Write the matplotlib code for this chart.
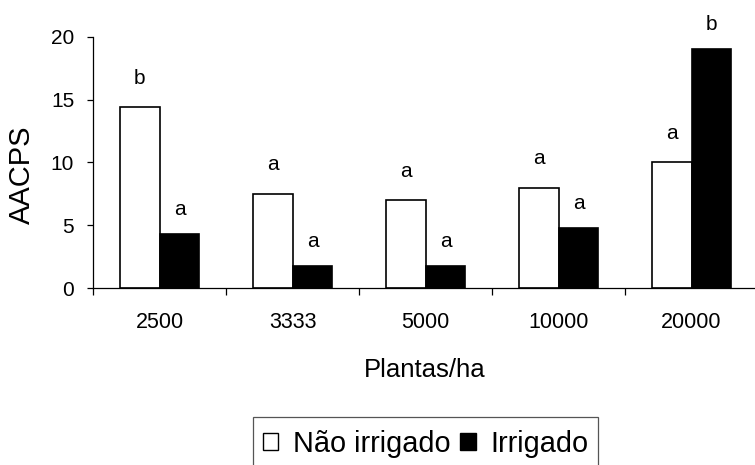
import matplotlib
matplotlib.use("Agg")
import matplotlib.pyplot as plt
from matplotlib.patches import Patch, Rectangle
import numpy as np

categories = ["2500", "3333", "5000", "10000", "20000"]
nao_irrigado = [14.4, 7.5, 7.0, 8.0, 10.0]
irrigado = [4.3, 1.75, 1.75, 4.75, 19.05]
letters_nao = ["b", "a", "a", "a", "a"]
letters_irr = ["a", "a", "a", "a", "b"]
y_ticks = [0, 5, 10, 15, 20]

plt.rcParams['font.family'] = ['Liberation Sans', 'DejaVu Sans']

W, H = 755, 465
fig = plt.figure(figsize=(W / 100, H / 100), dpi=100)
ax = fig.add_axes([93 / W, (H - 288) / H, (758 - 93) / W, (288 - 37) / H])

x = np.arange(len(categories))
bw = 0.30
ax.bar(x - bw / 2, nao_irrigado, bw, color="white", edgecolor="black", linewidth=1.2, zorder=2)
ax.bar(x + bw / 2, irrigado, bw, color="black", edgecolor="black", linewidth=1.2, zorder=2)

for xi, v, t in zip(x, nao_irrigado, letters_nao):
    ax.annotate(t, (xi - bw / 2, v), xytext=(0, 14), textcoords="offset points",
                ha="center", va="bottom", fontsize=15, annotation_clip=False)
for xi, v, t in zip(x, irrigado, letters_irr):
    ax.annotate(t, (xi + bw / 2, v), xytext=(0, 11), textcoords="offset points",
                ha="center", va="bottom", fontsize=15, annotation_clip=False)

ax.set_xlim(-0.5, len(categories) - 0.5)
ax.set_ylim(0, 20)
ax.set_yticks(y_ticks)
ax.set_yticklabels([str(v) for v in y_ticks])
ax.set_xticks(x)
ax.set_xticklabels(categories)
ax.set_xticks(np.arange(-0.5, len(categories), 1.0), minor=True)

for s in ["top", "right"]:
    ax.spines[s].set_visible(False)
for s in ["left", "bottom"]:
    ax.spines[s].set_linewidth(0.9)
    ax.spines[s].set_color("black")

ax.tick_params(axis="x", which="major", length=0, pad=17, labelsize=15.5)
ax.tick_params(axis="x", which="minor", length=5, width=0.9, direction="out")
ax.tick_params(axis="y", which="major", length=4.5, width=0.9, direction="out", pad=9, labelsize=15)

fig.text(22 / W, 1 - 175 / H, "AACPS", rotation=90, ha="center", va="center", fontsize=21)
fig.text(425 / W, 1 - 377 / H, "Plantas/ha", ha="center", va="baseline", fontsize=18.5)

handles = [Patch(facecolor="white", edgecolor="black", linewidth=1.0),
           Patch(facecolor="black", edgecolor="black", linewidth=1.0)]
leg = fig.legend(handles, ["Não irrigado", "Irrigado"], ncol=2,
                 loc="center left", bbox_to_anchor=(263 / W, 1 - 444 / H),
                 bbox_transform=fig.transFigure, fontsize=20.8, frameon=False,
                 borderpad=0, handlelength=0.53, handleheight=0.53, handletextpad=0.5,
                 columnspacing=0.35, borderaxespad=0)

fig.canvas.draw()
bb = leg.get_window_extent(fig.canvas.get_renderer())
right_px = bb.x1 + 10
frame = Rectangle((253 / W, -0.1), (right_px - 253) / W, (1 - 417 / H) + 0.1,
                  transform=fig.transFigure, facecolor="none", edgecolor="#555555",
                  linewidth=0.9, zorder=0)
fig.add_artist(frame)

fig.savefig("out.png", dpi=100)
